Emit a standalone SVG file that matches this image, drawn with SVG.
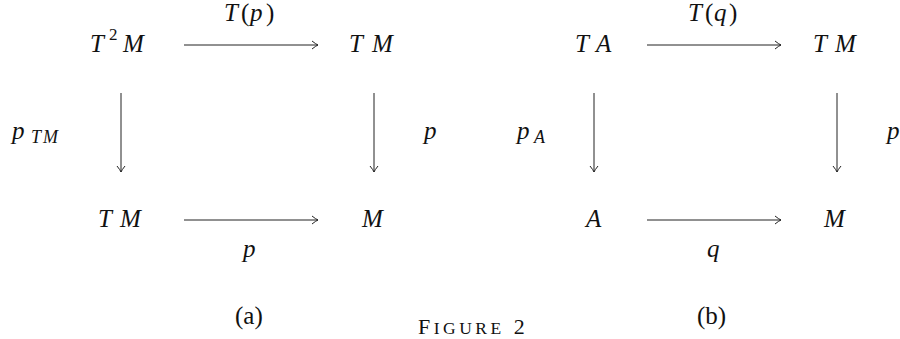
<svg xmlns="http://www.w3.org/2000/svg" width="900" height="339" viewBox="0 0 900 339">
<defs>
<style>
.m{font-family:"Liberation Serif","DejaVu Serif",serif;font-style:italic;font-size:25px;fill:#111}
.s{font-family:"Liberation Serif","DejaVu Serif",serif;font-style:italic;font-size:18px;fill:#111}
.r{font-family:"Liberation Serif","DejaVu Serif",serif;font-style:normal;font-size:25px;fill:#111}
.sup{font-family:"Liberation Serif","DejaVu Serif",serif;font-style:normal;font-size:17px;fill:#111}
.cap{font-family:"Liberation Serif","DejaVu Serif",serif;font-size:22px;fill:#111;letter-spacing:3.5px}
.a{stroke:#222;stroke-width:1;fill:none}
</style>
<marker id="ah" viewBox="-8 -5 10 10" refX="0" refY="0" markerWidth="10" markerHeight="10" markerUnits="userSpaceOnUse" orient="auto">
<path d="M-6,-4 Q-2,-0.8 0,0 Q-2,0.8 -6,4" stroke="#222" stroke-width="1" fill="none"/>
</marker>
</defs>
<rect width="900" height="339" fill="#fff"/>

<g id="a-T2M"><text class="m" x="90" y="52">T</text><text class="sup" x="109" y="40">2</text><text class="m" x="123" y="52">M</text></g>
<g id="a-TM-top"><text class="m" x="349 372" y="52">TM</text></g>
<g id="a-TM-bot"><text class="m" x="98 120" y="227">TM</text></g>
<g id="a-M"><text class="m" x="362" y="227">M</text></g>

<g id="b-TA"><text class="m" x="575 596" y="52">TA</text></g>
<g id="b-TM"><text class="m" x="813 835" y="52">TM</text></g>
<g id="b-A"><text class="m" x="586" y="227">A</text></g>
<g id="b-M"><text class="m" x="824" y="227">M</text></g>

<g id="connectors">
<line class="a" x1="184" y1="45" x2="318" y2="45" marker-end="url(#ah)"/>
<line class="a" x1="184" y1="220" x2="318" y2="220" marker-end="url(#ah)"/>
<line class="a" x1="121" y1="93" x2="121" y2="172" marker-end="url(#ah)"/>
<line class="a" x1="374" y1="93" x2="374" y2="172" marker-end="url(#ah)"/>
<line class="a" x1="647" y1="45" x2="781" y2="45" marker-end="url(#ah)"/>
<line class="a" x1="647" y1="220" x2="781" y2="220" marker-end="url(#ah)"/>
<line class="a" x1="594" y1="93" x2="594" y2="172" marker-end="url(#ah)"/>
<line class="a" x1="837" y1="93" x2="837" y2="172" marker-end="url(#ah)"/>
</g>

<g id="labels">
<text y="21"><tspan class="m" x="224">T</tspan><tspan class="r" x="241">(</tspan><tspan class="m" x="250">p</tspan><tspan class="r" x="266">)</tspan></text>
<text y="21"><tspan class="m" x="688">T</tspan><tspan class="r" x="705">(</tspan><tspan class="m" x="714">q</tspan><tspan class="r" x="729">)</tspan></text>
<text class="m" x="12" y="139">p</text><text class="s" x="31 43" y="143">TM</text>
<text class="m" x="424" y="139">p</text>
<text class="m" x="517" y="139">p</text><text class="s" x="534" y="143">A</text>
<text class="m" x="887" y="139">p</text>
<text class="m" x="243" y="257">p</text>
<text class="m" x="707" y="257">q</text>
<text class="r" x="235" y="324">(a)</text>
<text class="r" x="697" y="324">(b)</text>
<text class="cap" x="418" y="334">F<tspan font-size="17.5px">IGURE</tspan> 2</text>
</g>
</svg>
